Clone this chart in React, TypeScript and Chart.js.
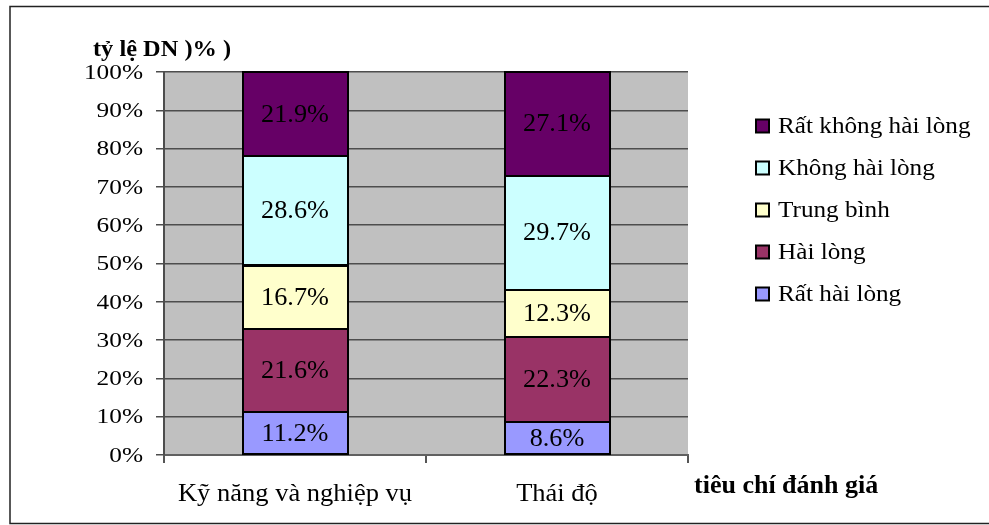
import React, { useEffect, useRef } from "react";
import { Chart, registerables } from "chart.js";

Chart.register(...registerables);

const categories = ["Kỹ năng và nghiệp vụ", "Thái độ"];
const seriesNames = ["Rất hài lòng", "Hài lòng", "Trung bình", "Không hài lòng", "Rất không hài lòng"];
const ratHaiLong = [11.2, 8.6];
const haiLong = [21.6, 22.3];
const trungBinh = [16.7, 12.3];
const khongHaiLong = [28.6, 29.7];
const ratKhongHaiLong = [21.9, 27.1];
const seriesColors = ["#9999FF", "#993366", "#FFFFCC", "#CCFFFF", "#660066"];
const yTicks = [0, 10, 20, 30, 40, 50, 60, 70, 80, 90, 100];
const yTitle = "tỷ lệ DN )% )";
const xTitle = "tiêu chí đánh giá";

const SERIF = "'Liberation Serif', 'Times New Roman', serif";

function drawText(
  ctx: CanvasRenderingContext2D,
  text: string,
  x: number,
  y: number,
  align: CanvasTextAlign,
  baseline: CanvasTextBaseline,
  font: string,
  sx: number
) {
  ctx.save();
  ctx.translate(x, y);
  ctx.scale(sx, 1);
  ctx.font = font;
  ctx.fillStyle = "#000";
  ctx.textAlign = align;
  ctx.textBaseline = baseline;
  ctx.fillText(text, 0, 0);
  ctx.restore();
}

const decorPlugin = {
  id: "decor",
  beforeDraw(chart: any) {
    const { ctx, chartArea } = chart;
    ctx.save();
    ctx.fillStyle = "#fff";
    ctx.fillRect(0, 0, chart.width, chart.height);
    ctx.fillStyle = "#C0C0C0";
    ctx.fillRect(chartArea.left, chartArea.top, chartArea.right - chartArea.left, chartArea.bottom - chartArea.top);
    ctx.restore();
  },
  afterDatasetsDraw(chart: any) {
    const { ctx } = chart;
    ctx.save();
    ctx.strokeStyle = "#000";
    ctx.lineWidth = 2;
    chart.data.datasets.forEach((_ds: any, di: number) => {
      const meta = chart.getDatasetMeta(di);
      meta.data.forEach((el: any) => {
        const half = el.width / 2;
        const top = Math.min(el.y, el.base);
        const h = Math.abs(el.base - el.y);
        ctx.strokeRect(Math.round(el.x - half), Math.round(top), Math.round(el.width), Math.round(h));
      });
    });
    ctx.restore();
  },
  afterDraw(chart: any) {
    const { ctx } = chart;
    const yScale = chart.scales.y;
    const xScale = chart.scales.x;
    // y tick labels
    yTicks.forEach((v) => {
      drawText(ctx, `${v}%`, 143, yScale.getPixelForValue(v) + 1, "right", "middle", `22px ${SERIF}`, 1.15);
    });
    // category labels
    categories.forEach((c, i) => {
      drawText(ctx, c, xScale.getPixelForValue(i), 501, "center", "alphabetic", `25px ${SERIF}`, 1.06);
    });
    // data labels
    chart.data.datasets.forEach((ds: any, di: number) => {
      const meta = chart.getDatasetMeta(di);
      meta.data.forEach((el: any, j: number) => {
        const v = ds.data[j];
        drawText(ctx, `${v.toFixed(1)}%`, el.x, (el.y + el.base) / 2 + 1, "center", "middle", `25px ${SERIF}`, 1.05);
      });
    });
    // titles
    drawText(ctx, yTitle, 93, 56, "left", "alphabetic", `bold 23px ${SERIF}`, 1.06);
    drawText(ctx, xTitle, 694, 493, "left", "alphabetic", `bold 26px ${SERIF}`, 1.0);
    // legend
    for (let k = 0; k < seriesNames.length; k++) {
      const idx = seriesNames.length - 1 - k;
      const cy = 126 + k * 42;
      ctx.save();
      ctx.fillStyle = seriesColors[idx];
      ctx.fillRect(756, cy - 6.5, 13, 13);
      ctx.strokeStyle = "#000";
      ctx.lineWidth = 2;
      ctx.strokeRect(756, cy - 6.5, 13, 13);
      ctx.restore();
      drawText(ctx, seriesNames[idx], 778, cy + 1, "left", "middle", `24px ${SERIF}`, 1.05);
    }
    // outer border (left, top, bottom)
    ctx.save();
    ctx.strokeStyle = "#222";
    ctx.lineWidth = 1.5;
    ctx.beginPath();
    ctx.moveTo(chart.width, 6.5);
    ctx.lineTo(10, 6.5);
    ctx.lineTo(10, 523.5);
    ctx.lineTo(chart.width, 523.5);
    ctx.stroke();
    ctx.restore();
  },
};

export default function App() {
  const canvasRef = useRef<HTMLCanvasElement | null>(null);

  useEffect(() => {
    const canvas = canvasRef.current;
    if (!canvas) return;
    const seriesData = [ratHaiLong, haiLong, trungBinh, khongHaiLong, ratKhongHaiLong];
    const chart = new Chart(canvas, {
      type: "bar",
      data: {
        labels: categories,
        datasets: seriesNames.map((name, i) => ({
          label: name,
          data: seriesData[i],
          backgroundColor: seriesColors[i],
          borderWidth: 0,
          barPercentage: 0.4,
          categoryPercentage: 1,
        })),
      },
      options: {
        responsive: false,
        animation: false,
        devicePixelRatio: 1,
        layout: { padding: { left: 0, right: 301, top: 72, bottom: 0 } },
        plugins: {
          legend: { display: false },
          tooltip: { enabled: false },
        },
        scales: {
          x: {
            stacked: true,
            grid: {
              offset: true,
              drawOnChartArea: false,
              drawTicks: true,
              tickLength: 8,
              color: "#555",
              lineWidth: 2,
            },
            border: { display: true, color: "#606060", width: 2 },
            ticks: { display: false },
            afterFit: (s: any) => {
              s.height = 70;
            },
          },
          y: {
            stacked: true,
            min: 0,
            max: 100,
            grid: {
              drawTicks: true,
              tickLength: 8,
              color: "#4d4d4d",
              lineWidth: 1.5,
            },
            border: { display: true, color: "#4d4d4d", width: 2 },
            ticks: { display: false, stepSize: 10 },
            afterFit: (s: any) => {
              s.width = 164;
            },
          },
        },
      },
      plugins: [decorPlugin],
    });
    return () => chart.destroy();
  }, []);

  return (
    <div style={{ position: "absolute", left: 0, top: 0, width: 989, height: 525, background: "#fff" }}>
      <canvas ref={canvasRef} width={989} height={525} />
    </div>
  );
}
